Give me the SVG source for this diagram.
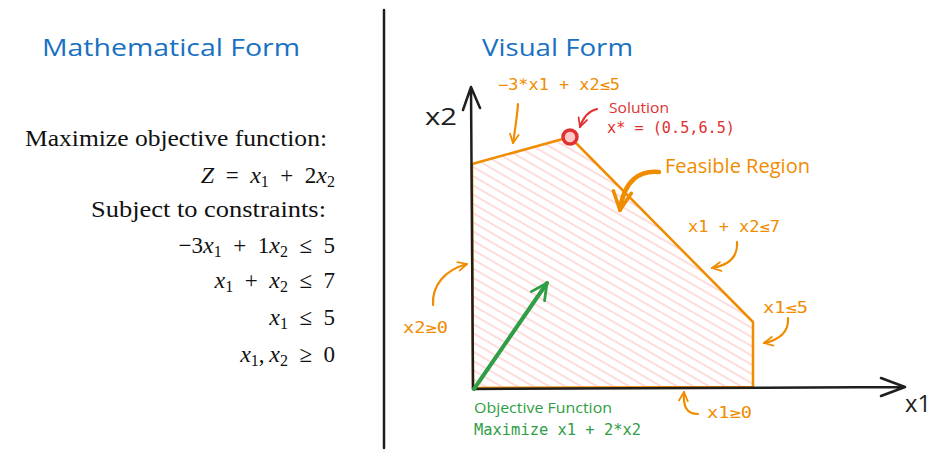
<svg xmlns="http://www.w3.org/2000/svg" width="937" height="458" viewBox="0 0 937 458">
<style>
.hand{font-family:"Open Sans","Liberation Sans",sans-serif}
.mono{font-family:"DejaVu Sans Mono","Liberation Mono",monospace}
.math{font-family:"Liberation Serif","DejaVu Serif",serif;font-size:23px;fill:#111}
.math .v{font-style:italic;font-size:24px}
.sub{font-size:16px}
.title{font-size:23px;fill:#1971c2}
.or{fill:#f08c00;font-size:15px}
.oline{fill:none;stroke:#f08c00;stroke-width:2.2;stroke-linecap:round}
.ax{fill:none;stroke:#1e1e1e;stroke-width:2.5;stroke-linecap:round;stroke-linejoin:round}
</style>
<defs>
<pattern id="hatch" width="8" height="8" patternUnits="userSpaceOnUse" patternTransform="rotate(30)">
<line x1="0" y1="4" x2="8" y2="4" stroke="#ffc9c9" stroke-width="1.3"/>
</pattern>
<marker id="mo" viewBox="0 0 10 10" refX="9" refY="5" markerWidth="5" markerHeight="5" orient="auto" markerUnits="strokeWidth">
<path d="M1,1 L9,5 L1,9" fill="none" stroke="#f08c00" stroke-width="1.6" stroke-linecap="round" stroke-linejoin="round"/>
</marker>
<marker id="mr" viewBox="0 0 10 10" refX="9" refY="5" markerWidth="5" markerHeight="5" orient="auto" markerUnits="strokeWidth">
<path d="M1,1 L9,5 L1,9" fill="none" stroke="#e03131" stroke-width="1.6" stroke-linecap="round" stroke-linejoin="round"/>
</marker>
<marker id="mg" viewBox="0 0 10 10" refX="9" refY="5" markerWidth="5" markerHeight="5" orient="auto" markerUnits="strokeWidth">
<path d="M1,1 L9,5 L1,9" fill="none" stroke="#2f9e44" stroke-width="1.4" stroke-linecap="round" stroke-linejoin="round"/>
</marker>
</defs>
<rect width="937" height="458" fill="#ffffff"/>

<g id="divider"><line x1="384" y1="10" x2="384" y2="448" stroke="#1e1e1e" stroke-width="2.5" stroke-linecap="round"/></g>

<g id="math-form">
<text class="hand title" x="42" y="56" textLength="258" lengthAdjust="spacingAndGlyphs">Mathematical Form</text>
<g class="math" text-anchor="end">
<text x="327" y="146" textLength="302" lengthAdjust="spacingAndGlyphs">Maximize objective function:</text>
<text x="335" y="183"><tspan class="v">Z</tspan>&#8194;=&#8194;<tspan class="v">x</tspan><tspan class="sub" dy="4">1</tspan><tspan dy="-4">&#8194;+&#8194;2</tspan><tspan class="v">x</tspan><tspan class="sub" dy="4">2</tspan></text>
<text x="326" y="217" textLength="235" lengthAdjust="spacingAndGlyphs">Subject to constraints:</text>
<text x="335" y="253">−3<tspan class="v">x</tspan><tspan class="sub" dy="4">1</tspan><tspan dy="-4">&#8194;+&#8194;1</tspan><tspan class="v">x</tspan><tspan class="sub" dy="4">2</tspan><tspan dy="-4">&#8194;≤&#8194;5</tspan></text>
<text x="335" y="288"><tspan class="v">x</tspan><tspan class="sub" dy="4">1</tspan><tspan dy="-4">&#8194;+&#8194;</tspan><tspan class="v">x</tspan><tspan class="sub" dy="4">2</tspan><tspan dy="-4">&#8194;≤&#8194;7</tspan></text>
<text x="335" y="325"><tspan class="v">x</tspan><tspan class="sub" dy="4">1</tspan><tspan dy="-4">&#8194;≤&#8194;5</tspan></text>
<text x="335" y="362"><tspan class="v">x</tspan><tspan class="sub" dy="4">1</tspan><tspan dy="-4">,&#8201;</tspan><tspan class="v">x</tspan><tspan class="sub" dy="4">2</tspan><tspan dy="-4">&#8194;≥&#8194;0</tspan></text>
</g>
</g>

<g id="visual-form">
<text class="hand title" x="482" y="56" textLength="151" lengthAdjust="spacingAndGlyphs">Visual Form</text>
</g>

<g id="feasible-region">
<polygon points="473,388 472,164 570,137 753,322 753,387" fill="url(#hatch)" stroke="#f08c00" stroke-width="2.5" stroke-linejoin="round"/>
</g>

<g id="axes">
<path class="ax" d="M473,389 L905,387 M881,378 L905,387 L881,396"/>
<path class="ax" d="M473,389 L471,87 M463,110 L471,87 L480,108"/>
<text class="hand" x="425" y="125" font-size="24" fill="#1e1e1e" textLength="32" lengthAdjust="spacingAndGlyphs">x2</text>
<text class="hand" x="905" y="412" font-size="24" fill="#1e1e1e" textLength="26" lengthAdjust="spacingAndGlyphs">x1</text>
</g>

<g id="solution">
<circle cx="570" cy="137" r="7" fill="#ffc9c9" stroke="#e03131" stroke-width="3.5"/>
<text class="hand" x="609" y="113" font-size="15" fill="#e03131" textLength="60" lengthAdjust="spacingAndGlyphs">Solution</text>
<text class="mono" x="607" y="133" font-size="15" fill="#e03131" textLength="128" lengthAdjust="spacingAndGlyphs">x* = (0.5,6.5)</text>
</g>

<g id="objective">
<text class="hand" x="474" y="413" font-size="15" fill="#2f9e44" textLength="138" lengthAdjust="spacingAndGlyphs">Objective Function</text>
<text class="mono" x="474" y="435" font-size="15" fill="#2f9e44" textLength="167" lengthAdjust="spacingAndGlyphs">Maximize x1 + 2*x2</text>
</g>

<g id="labels">
<text class="mono or" x="498" y="90" textLength="122" lengthAdjust="spacingAndGlyphs">−3*x1 + x2≤5</text>
<text class="hand" x="665" y="173" font-size="20" fill="#f08c00" textLength="145" lengthAdjust="spacingAndGlyphs">Feasible Region</text>
<text class="mono or" x="688" y="232" textLength="92" lengthAdjust="spacingAndGlyphs">x1 + x2≤7</text>
<text class="mono or" x="763" y="313" textLength="45" lengthAdjust="spacingAndGlyphs">x1≤5</text>
<text class="mono or" x="403" y="333" textLength="45" lengthAdjust="spacingAndGlyphs">x2≥0</text>
<text class="mono or" x="707" y="418" textLength="45" lengthAdjust="spacingAndGlyphs">x1≥0</text>
</g>

<g id="connectors">
<path class="oline" d="M518,104 C517,118 515,130 513,143" marker-end="url(#mo)"/>
<path d="M659,172 C640,170 624,180 620,210" fill="none" stroke="#f08c00" stroke-width="4.5" stroke-linecap="round" marker-end="url(#mo)"/>
<path class="oline" d="M737,242 C738,256 730,265 712,268" marker-end="url(#mo)"/>
<path class="oline" d="M788,318 C789,332 779,340 764,343" marker-end="url(#mo)"/>
<path class="oline" d="M433,305 C432,285 445,270 467,264" marker-end="url(#mo)"/>
<path class="oline" d="M698,414 C686,414 683,406 684,392" marker-end="url(#mo)"/>
<path d="M597,109 C588,111 583,118 580,127" fill="none" stroke="#e03131" stroke-width="2.2" stroke-linecap="round" marker-end="url(#mr)"/>
<path d="M474,389 L547,283" fill="none" stroke="#2f9e44" stroke-width="4" stroke-linecap="round" marker-end="url(#mg)"/>
</g>
</svg>
